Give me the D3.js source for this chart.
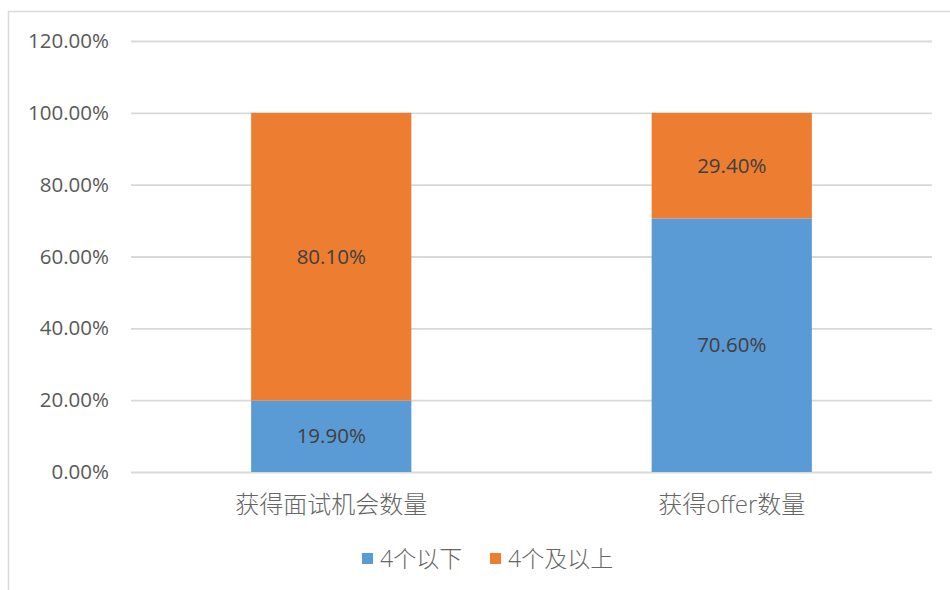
<!DOCTYPE html>
<html>
<head>
<meta charset="utf-8">
<script src="https://cdn.jsdelivr.net/npm/d3@7"></script>
<style>
  body { margin: 0; background: #fff; }
  svg text { font-family: "Open Sans", "Noto Sans CJK SC", sans-serif; }
</style>
</head>
<body>
<div id="plot"></div>
<script>
// chart data
const categories = ["获得面试机会数量", "获得offer数量"];
const seriesNames = ["4个以下", "4个及以上"];
const below4 = [19.9, 70.6];
const atLeast4 = [80.1, 29.4];
const yTicks = [0, 20, 40, 60, 80, 100, 120];
const colors = ["#5b9bd5", "#ed7d31"];

const W = 950, H = 590;
const margin = { top: 41, right: 18, bottom: 118, left: 131 };
const width = W - margin.left - margin.right,
      height = H - margin.top - margin.bottom;

const svg = d3.select("#plot").append("svg")
    .attr("width", W)
    .attr("height", H);

// outer chart frame (only left/top edges show in the original)
svg.append("rect")
    .attr("x", 8.5).attr("y", 11.5)
    .attr("width", W + 10).attr("height", H + 10)
    .attr("fill", "none")
    .attr("stroke", "#d9d9d9")
    .attr("stroke-width", 1.5);

const g = svg.append("g")
    .attr("transform", `translate(${margin.left},${margin.top})`);

const x = d3.scaleBand()
    .domain(categories)
    .range([0, width])
    .paddingInner(0.6)
    .paddingOuter(0.3);

const y = d3.scaleLinear()
    .domain([0, 120])
    .range([height, 0]);

// gridlines + y labels
const yAxis = g.append("g")
    .call(d3.axisLeft(y).tickValues(yTicks).tickSize(-width)
        .tickFormat(d => d.toFixed(2) + "%").tickPadding(22));
yAxis.select(".domain").remove();
yAxis.selectAll("line").attr("stroke", "#d9d9d9").attr("stroke-width", 1.8);
yAxis.selectAll("text")
    .attr("fill", "#595959")
    .style("font-size", "20.5px");

// stacked data
const rows = categories.map((c, i) => ({ cat: c, a: below4[i], b: atLeast4[i] }));
const stack = d3.stack().keys(["a", "b"])(rows);

const layers = g.selectAll(".layer")
    .data(stack)
    .join("g")
      .attr("class", "layer")
      .attr("fill", (d, i) => colors[i]);

layers.selectAll("rect")
    .data(d => d)
    .join("rect")
      .attr("x", d => x(d.data.cat))
      .attr("width", x.bandwidth())
      .attr("y", d => y(d[1]))
      .attr("height", d => y(d[0]) - y(d[1]));

layers.selectAll("text")
    .data(d => d)
    .join("text")
      .attr("x", d => x(d.data.cat) + x.bandwidth() / 2)
      .attr("y", d => (y(d[0]) + y(d[1])) / 2)
      .attr("dy", "0.35em")
      .attr("text-anchor", "middle")
      .attr("fill", "#404040")
      .style("font-size", "20.5px")
      .text(d => (d[1] - d[0]).toFixed(2) + "%");

// category labels
g.selectAll(".cat")
    .data(categories)
    .join("text")
      .attr("class", "cat")
      .attr("x", d => x(d) + x.bandwidth() / 2)
      .attr("y", height + 41)
      .attr("text-anchor", "middle")
      .attr("fill", "#666")
      .style("font-size", "24px")
      .style("font-weight", 300)
      .text(d => d);

// legend
const legendX = [362, 490];
const legend = svg.selectAll(".legend")
    .data(seriesNames)
    .join("g")
      .attr("class", "legend")
      .attr("transform", (d, i) => `translate(${legendX[i]},553)`);

legend.append("rect")
    .attr("width", 11).attr("height", 11)
    .attr("fill", (d, i) => colors[i]);

legend.append("text")
    .attr("x", 18)
    .attr("y", 6)
    .attr("dy", "0.35em")
    .attr("fill", "#666")
    .style("font-size", "23px")
    .style("font-weight", 300)
    .text(d => d);
</script>
</body>
</html>
